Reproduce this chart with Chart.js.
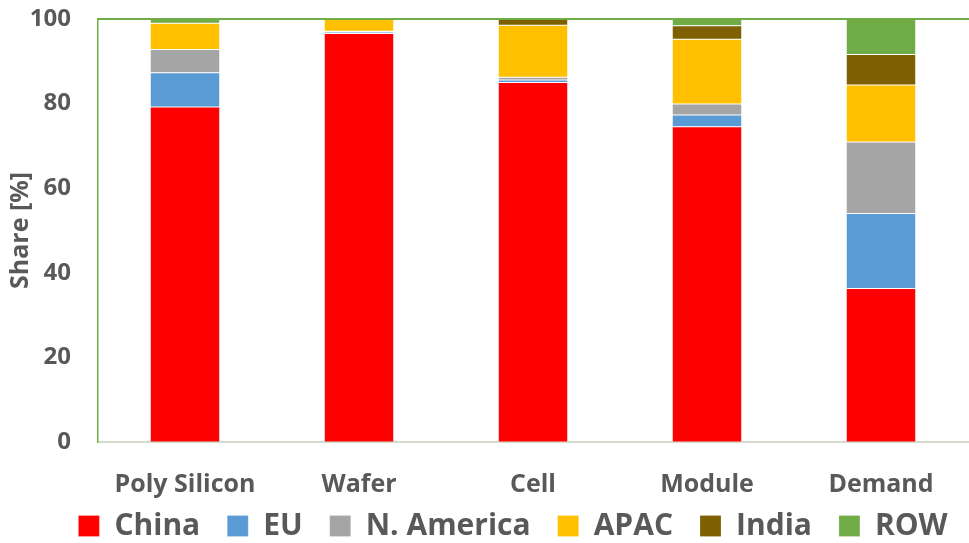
<!DOCTYPE html>
<html>
<head>
<meta charset="utf-8">
<script src="https://cdn.jsdelivr.net/npm/chart.js@4/dist/chart.umd.min.js"></script>
<style>
  html, body { margin: 0; padding: 0; background: #ffffff; }
  #wrap { width: 969px; height: 543px; position: relative; }
</style>
</head>
<body>
<div id="wrap"><canvas id="c"></canvas></div>
<script>
// Production stages along the PV value chain
const stages = ['Poly Silicon', 'Wafer', 'Cell', 'Module', 'Demand'];

// Regional share of each stage, in percent
const china      = [79.2, 96.6, 85.0, 74.5, 36.3];
const eu         = [8.1, 0.3, 0.6, 2.8, 17.7];
const northAm    = [5.5, 0.2, 0.6, 2.6, 16.9];
const apac       = [6.2, 2.9, 12.3, 15.3, 13.5];
const india      = [0, 0, 1.5, 3.2, 7.2];
const row        = [1.0, 0, 0, 1.6, 8.4];

const yTicks = [0, 20, 40, 60, 80, 100];

const textColor = '#595959';
const fontFamily = '"Open Sans", "Liberation Sans", sans-serif';

function series(label, data, color) {
  return {
    label, data,
    backgroundColor: color,
    borderColor: 'rgba(255,255,255,0.4)',
    borderWidth: 0.5,
    borderSkipped: false,
    categoryPercentage: 1.0,
    barPercentage: 0.4
  };
}

// Green frame line along the top of the plot area
const topFrame = {
  id: 'topFrame',
  afterDraw(chart) {
    const { ctx, chartArea } = chart;
    ctx.save();
    ctx.strokeStyle = '#70AD47';
    ctx.lineWidth = 2;
    ctx.beginPath();
    ctx.moveTo(chartArea.left - 1, chartArea.top);
    ctx.lineTo(chart.width, chartArea.top);
    ctx.stroke();
    ctx.restore();
  }
};

// Move the legend row up under the category labels and a little to the right
const legendShift = {
  id: 'legendShift',
  afterLayout(chart) {
    const lg = chart.legend;
    if (!lg) return;
    lg.left += 29; lg.right += 29;
    lg.top -= 18;
  }
};

new Chart(document.getElementById('c'), {
  type: 'bar',
  data: {
    labels: stages,
    datasets: [
      series('China', china, '#FF0000'),
      series('EU', eu, '#5B9BD5'),
      series('N. America', northAm, '#A5A5A5'),
      series('APAC', apac, '#FFC000'),
      series('India', india, '#7F6000'),
      series('ROW', row, '#70AD47')
    ]
  },
  options: {
    responsive: true,
    maintainAspectRatio: false,
    animation: false,
    layout: { padding: { top: 19, right: 1, left: 0, bottom: 0 } },
    plugins: {
      tooltip: { enabled: false },
      legend: {
        position: 'bottom',
        maxHeight: 41,
        labels: {
          color: textColor,
          font: { family: fontFamily, size: 30, weight: 'bold' },
          boxWidth: 21,
          boxHeight: 21,
          padding: 27
        }
      }
    },
    scales: {
      x: {
        stacked: true,
        grid: { display: false },
        border: { color: '#D5DBCB', width: 2 },
        ticks: {
          color: textColor,
          font: { family: fontFamily, size: 25, weight: 'bold' },
          padding: 20
        },
        afterFit(scale) { scale.height = 60; }
      },
      y: {
        stacked: true,
        min: 0,
        max: 100,
        afterBuildTicks(scale) { scale.ticks = yTicks.map(v => ({ value: v })); },
        grid: { display: false, drawTicks: true, tickLength: 27 },
        border: { color: '#70AD47', width: 1.5 },
        title: {
          display: true,
          text: 'Share [%]',
          color: textColor,
          font: { family: fontFamily, size: 25, weight: 'bold' },
          padding: { top: 6, bottom: 0 }
        },
        ticks: {
          color: textColor,
          font: { family: fontFamily, size: 24, weight: 'bold' },
          padding: 0
        },
        afterFit(scale) { scale.width = 98; }
      }
    }
  },
  plugins: [topFrame, legendShift]
});
</script>
</body>
</html>
